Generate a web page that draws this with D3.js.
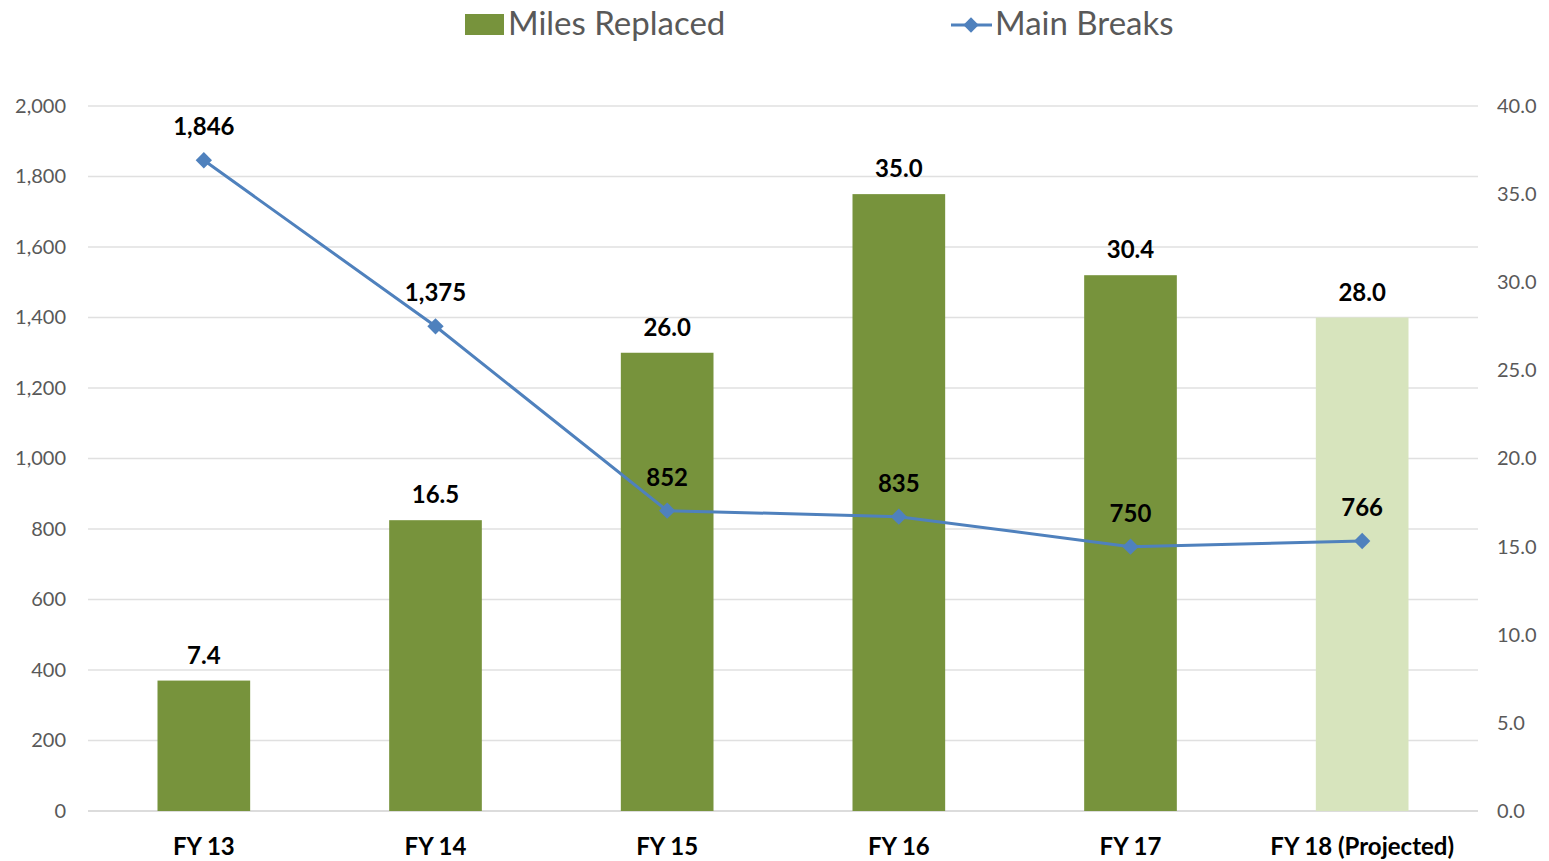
<!DOCTYPE html>
<html>
<head>
<meta charset="utf-8">
<script src="https://cdn.jsdelivr.net/npm/d3@7"></script>
<style>
  body { margin: 0; background: #fff; }
  text { font-family: Lato, "Open Sans", sans-serif; }
</style>
</head>
<body>
<div id="chart"></div>
<script>
// data
var categories = ["FY 13", "FY 14", "FY 15", "FY 16", "FY 17", "FY 18 (Projected)"];
var milesReplaced = [7.4, 16.5, 26.0, 35.0, 30.4, 28.0];
var mainBreaks = [1846, 1375, 852, 835, 750, 766];
var projected = [false, false, false, false, false, true];
var leftTicks = [0, 200, 400, 600, 800, 1000, 1200, 1400, 1600, 1800, 2000];
var rightTicks = [0, 5, 10, 15, 20, 25, 30, 35, 40];

var svgWidth = 1549;
var svgHeight = 861;
var margin = { top: 106, right: 71, bottom: 50, left: 88 };
var width = svgWidth - margin.left - margin.right;
var height = svgHeight - margin.top - margin.bottom;

var svg = d3.select("#chart")
  .append("svg")
  .attr("width", svgWidth)
  .attr("height", svgHeight);

var chartGroup = svg.append("g")
  .attr("transform", `translate(${margin.left}, ${margin.top})`);

var x = d3.scaleBand()
  .domain(categories)
  .range([0, width])
  .paddingInner(0.6)
  .paddingOuter(0.3);

var yLeft = d3.scaleLinear().domain([0, 2000]).range([height, 0]);
var yRight = d3.scaleLinear().domain([0, 40]).range([height, 0]);

// gridlines
chartGroup.append("g")
  .selectAll("line")
  .data(leftTicks)
  .enter()
  .append("line")
  .attr("x1", 0)
  .attr("x2", width)
  .attr("y1", d => yLeft(d))
  .attr("y2", d => yLeft(d))
  .attr("stroke", d => d === 0 ? "#d0d0d0" : "#e0e0e0")
  .attr("stroke-width", 1.5);

// axes
var leftAxis = d3.axisLeft(yLeft).tickValues(leftTicks).tickSize(0).tickPadding(22)
  .tickFormat(d3.format(","));
var rightAxis = d3.axisRight(yRight).tickValues(rightTicks).tickSize(0).tickPadding(19)
  .tickFormat(d3.format(".1f"));
var bottomAxis = d3.axisBottom(x).tickSize(0).tickPadding(27);

var gl = chartGroup.append("g").call(leftAxis);
var gr = chartGroup.append("g").attr("transform", `translate(${width}, 0)`).call(rightAxis);
var gb = chartGroup.append("g").attr("transform", `translate(0, ${height})`).call(bottomAxis);

[gl, gr].forEach(function (g) {
  g.select(".domain").remove();
  g.selectAll("text")
    .attr("font-family", "Lato, sans-serif")
    .attr("font-size", "20px")
    .attr("fill", "#595959");
});
gb.select(".domain").remove();
gb.selectAll("text")
  .attr("font-family", "Lato, sans-serif")
  .attr("font-size", "24px")
  .attr("font-weight", "bold")
  .attr("fill", "#000");

// bars
chartGroup.selectAll("rect.bar")
  .data(milesReplaced)
  .enter()
  .append("rect")
  .attr("class", "bar")
  .attr("x", (d, i) => x(categories[i]))
  .attr("width", x.bandwidth())
  .attr("y", d => yRight(d))
  .attr("height", d => height - yRight(d))
  .attr("fill", (d, i) => projected[i] ? "#d7e4bd" : "#77933c");

chartGroup.selectAll("text.barlabel")
  .data(milesReplaced)
  .enter()
  .append("text")
  .attr("class", "barlabel")
  .attr("x", (d, i) => x(categories[i]) + x.bandwidth() / 2)
  .attr("y", d => yRight(d) - 17)
  .attr("text-anchor", "middle")
  .attr("font-size", "24px")
  .attr("font-weight", "bold")
  .attr("fill", "#000")
  .text(d => d3.format(".1f")(d));

// line
var line = d3.line()
  .x((d, i) => x(categories[i]) + x.bandwidth() / 2)
  .y(d => yLeft(d));

chartGroup.append("path")
  .datum(mainBreaks)
  .attr("d", line)
  .attr("fill", "none")
  .attr("stroke", "#4f81bd")
  .attr("stroke-width", 3);

chartGroup.selectAll("path.marker")
  .data(mainBreaks)
  .enter()
  .append("path")
  .attr("class", "marker")
  .attr("d", d3.symbol().type(d3.symbolDiamond2).size(170))
  .attr("transform", (d, i) => `translate(${x(categories[i]) + x.bandwidth() / 2}, ${yLeft(d)})`)
  .attr("fill", "#4f81bd");

chartGroup.selectAll("text.linelabel")
  .data(mainBreaks)
  .enter()
  .append("text")
  .attr("class", "linelabel")
  .attr("x", (d, i) => x(categories[i]) + x.bandwidth() / 2)
  .attr("y", d => yLeft(d) - 25)
  .attr("text-anchor", "middle")
  .attr("font-size", "24px")
  .attr("font-weight", "bold")
  .attr("fill", "#000")
  .text(d => d3.format(",")(d));

// legend
var legend = svg.append("g");
legend.append("rect")
  .attr("x", 465).attr("y", 14)
  .attr("width", 39).attr("height", 21)
  .attr("fill", "#77933c");
legend.append("text")
  .attr("x", 508).attr("y", 35)
  .attr("font-size", "33px")
  .attr("fill", "#595959")
  .text("Miles Replaced");

legend.append("line")
  .attr("x1", 951).attr("x2", 992)
  .attr("y1", 25).attr("y2", 25)
  .attr("stroke", "#4f81bd")
  .attr("stroke-width", 3);
legend.append("path")
  .attr("d", d3.symbol().type(d3.symbolDiamond2).size(150))
  .attr("transform", "translate(971, 25)")
  .attr("fill", "#4f81bd");
legend.append("text")
  .attr("x", 995).attr("y", 35)
  .attr("font-size", "33px")
  .attr("fill", "#595959")
  .text("Main Breaks");
</script>
</body>
</html>
